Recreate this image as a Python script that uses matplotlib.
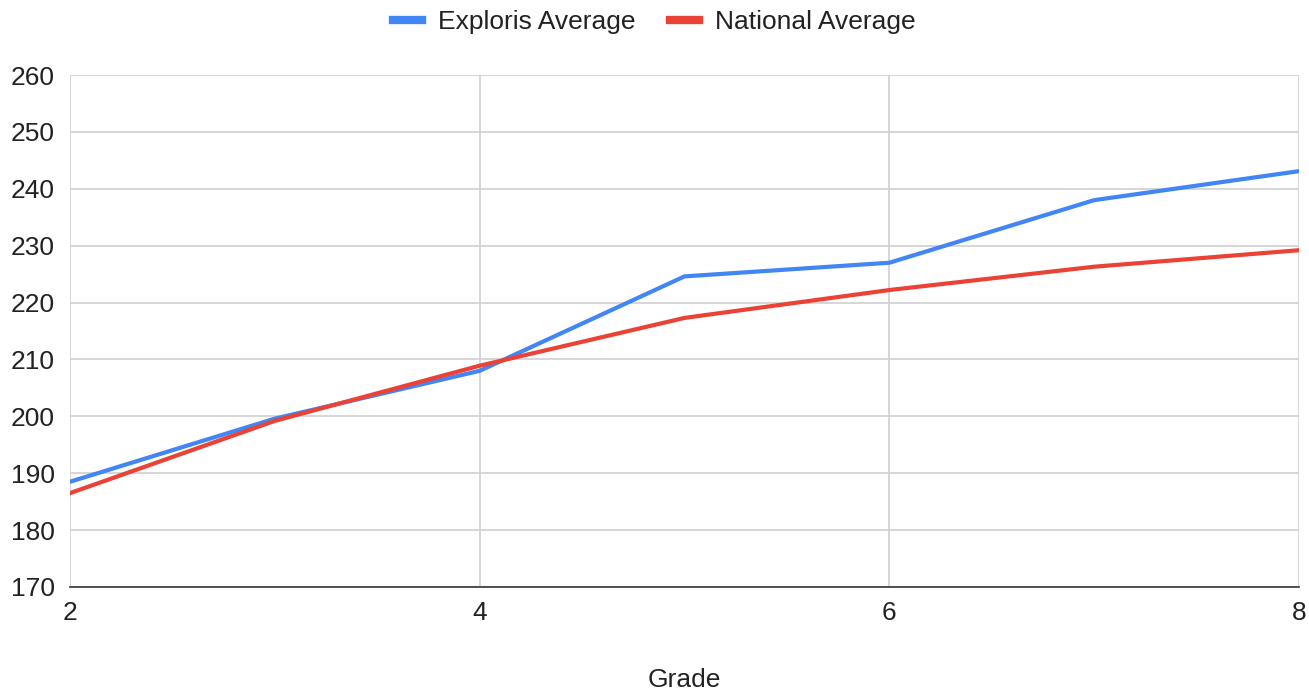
import matplotlib.pyplot as plt
from matplotlib.lines import Line2D

grades = [2, 3, 4, 5, 6, 7, 8]
exploris = [188.5, 199.6, 208.0, 224.6, 227.0, 238.0, 243.1]
national = [186.5, 199.2, 208.9, 217.3, 222.2, 226.3, 229.2]

blue = '#4285f4'
red = '#ea4335'

plt.rcParams['font.family'] = ['Liberation Sans', 'DejaVu Sans']

fig = plt.figure(figsize=(13.09, 6.94), dpi=100)
ax = fig.add_axes([70 / 1309, 1 - 587 / 694, 1229 / 1309, 512 / 694])

ax.plot(grades, exploris, color=blue, lw=3, solid_joinstyle='round', zorder=3)
ax.plot(grades, national, color=red, lw=3, solid_joinstyle='round', zorder=3)

ax.set_xlim(2, 8)
ax.set_ylim(170, 260)
ax.set_xticks([2, 4, 6, 8])
ax.set_yticks(range(170, 261, 10))
ax.grid(True, color='#d0d0d0', lw=1.2)
ax.set_axisbelow(True)
for s in ['top', 'right', 'left']:
    ax.spines[s].set_visible(False)
ax.spines['bottom'].set_color('#333333')
ax.spines['bottom'].set_linewidth(1.2)
ax.tick_params(length=0, labelsize=19, colors='#222222', pad=10)
ax.tick_params(axis='y', pad=11)
ax.set_xlabel('Grade', fontsize=19, color='#222222', labelpad=31)

handles = [Line2D([], [], color=blue, lw=6), Line2D([], [], color=red, lw=6)]
fig.legend(handles, ['Exploris Average', 'National Average'], loc='upper center',
           bbox_to_anchor=(0.5, 1.02), ncol=2, frameon=False, fontsize=19,
           handlelength=1.1, handletextpad=0.6, columnspacing=1.3,
           labelcolor='#222222')

fig.savefig('out.png', dpi=100, facecolor='white')
